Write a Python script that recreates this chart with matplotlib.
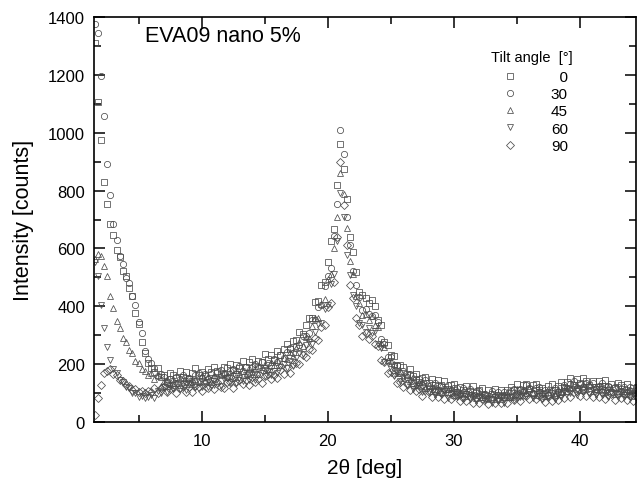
import matplotlib
matplotlib.use("Agg")
import matplotlib.pyplot as plt
import numpy as np
from matplotlib.ticker import MultipleLocator
from matplotlib.lines import Line2D

plt.rcParams['font.family'] = ['Liberation Sans', 'DejaVu Sans']

# 2theta grid, 0.25 deg step
two_theta = np.arange(1.5, 44.51, 0.25)

tilt_labels = ["  0", "30", "45", "60", "90"]
markers = ["s", "o", "^", "v", "D"]

tilt_0 = [1310, 1105, 975, 830, 752, 684, 648, 596, 570, 522, 506, 463, 436, 378, 340, 276, 240, 203,
          188, 172, 185, 157, 162, 140, 168, 161, 151, 175,
          156, 174, 149, 170, 185, 161, 172, 160, 184, 173,
          190, 175, 166, 191, 188, 202, 180, 197, 187, 210,
          190, 207, 218, 194, 212, 208, 234, 218, 232, 215,
          245, 233, 251, 271, 254, 280, 282, 311, 305, 335,
          360, 360, 415, 420, 474, 485, 554, 624, 667, 819,
          960, 875, 772, 640, 588, 519, 451, 438, 430, 412,
          423, 402, 354, 336, 276, 266, 230, 228, 195, 197,
          190, 165, 182, 159, 167, 139, 151, 155, 134, 150,
          127, 144, 127, 143, 115, 127, 130, 105, 122, 110,
          123, 106, 123, 99, 109, 117, 93, 109, 97, 114,
          94, 111, 92, 111, 120, 110, 130, 112, 128, 133,
          113, 129, 132, 111, 119, 101, 123, 130, 112, 124,
          137, 121, 138, 153, 128, 147, 136, 151, 141, 127,
          143, 121, 142, 126, 144, 122, 131, 117, 136, 129,
          115, 131, 108, 119, 121]

tilt_30 = [1375, 1345, 1195, 1058, 893, 786, 684, 630, 574, 546, 498, 481, 434, 405, 344, 306, 246, 219,
           205, 188, 158, 166, 157, 135, 147, 129, 154, 148,
           162, 142, 152, 139, 162, 170, 152, 165, 150, 166,
           152, 172, 179, 165, 156, 177, 183, 167, 192, 178,
           189, 171, 190, 199, 185, 209, 188, 203, 193, 219,
           206, 231, 221, 242, 256, 239, 264, 266, 299, 298,
           306, 353, 354, 399, 404, 469, 505, 533, 642, 755,
           1010, 928, 710, 612, 521, 472, 431, 387, 391, 375,
           366, 370, 344, 287, 268, 224, 224, 196, 198, 170,
           177, 156, 166, 136, 148, 150, 127, 146, 126, 115,
           134, 112, 124, 113, 127, 100, 116, 117, 96, 119,
           97, 114, 89, 106, 107, 88, 98, 80, 106, 90,
           105, 89, 103, 85, 106, 114, 97, 114, 104, 127,
           116, 99, 118, 121, 97, 110, 94, 108, 119, 105,
           104, 129, 119, 132, 142, 116, 133, 121, 136, 126,
           135, 115, 125, 134, 109, 126, 104, 122, 122, 108,
           120, 101, 120, 100, 109]

tilt_45 = [565, 580, 574, 540, 505, 436, 394, 348, 326, 292, 276, 248, 240, 212, 204, 183, 177, 163,
           171, 149, 161, 126, 142, 150, 130, 147, 136, 128,
           151, 137, 157, 133, 148, 139, 164, 146, 159, 140,
           163, 142, 163, 172, 156, 172, 153, 181, 166, 177,
           163, 188, 172, 187, 167, 189, 199, 184, 207, 197,
           213, 197, 221, 218, 243, 229, 255, 275, 261, 295,
           289, 332, 361, 358, 408, 425, 493, 510, 602, 710,
           860, 788, 670, 557, 511, 436, 412, 369, 374, 352,
           366, 335, 327, 274, 259, 214, 210, 200, 170, 175,
           153, 164, 143, 155, 127, 139, 141, 117, 128, 108,
           123, 105, 126, 104, 113, 118, 93, 111, 98, 110,
           89, 105, 98, 82, 105, 86, 99, 82, 99, 78,
           98, 78, 96, 104, 87, 94, 114, 94, 111, 101,
           119, 100, 93, 111, 105, 90, 113, 96, 92, 113,
           103, 125, 107, 116, 132, 128, 110, 130, 113, 132,
           106, 123, 111, 126, 104, 122, 116, 97, 116, 101,
           114, 97, 114, 90, 102]

tilt_60 = [552, 506, 404, 326, 258, 216, 182, 170, 146, 139, 120, 116, 101, 99, 88, 90, 82, 86,
           93, 84, 107, 99, 122, 104, 124, 114, 135, 114,
           133, 112, 130, 141, 122, 140, 121, 135, 122, 143,
           129, 149, 125, 147, 153, 140, 158, 136, 153, 142,
           163, 145, 163, 145, 164, 177, 159, 177, 161, 178,
           168, 190, 202, 187, 212, 195, 222, 238, 234, 265,
           277, 271, 312, 340, 342, 389, 405, 477, 511, 625,
           790, 710, 578, 508, 438, 401, 343, 335, 312, 324,
           306, 316, 271, 256, 209, 205, 184, 159, 169, 143,
           151, 128, 142, 114, 126, 126, 102, 117, 104, 117,
           95, 112, 96, 107, 84, 101, 105, 85, 93, 78,
           98, 79, 93, 73, 86, 93, 71, 82, 66, 85,
           72, 88, 67, 88, 87, 77, 101, 86, 102, 90,
           102, 82, 97, 103, 81, 97, 83, 100, 81, 98,
           85, 106, 114, 99, 115, 94, 118, 102, 120, 96,
           109, 93, 114, 95, 109, 87, 105, 99, 85, 105,
           85, 102, 86, 97, 80]

tilt_90 = [25, 82, 128, 168, 176, 182, 166, 163, 146, 143, 127, 125, 112, 113, 103, 107, 101, 108,
           102, 119, 100, 117, 123, 102, 113, 121, 101, 119,
           125, 104, 120, 102, 125, 122, 108, 134, 117, 131,
           115, 138, 122, 116, 140, 137, 119, 139, 146, 131,
           146, 129, 156, 137, 149, 136, 159, 165, 148, 164,
           153, 179, 165, 187, 171, 201, 203, 199, 232, 224,
           254, 249, 290, 285, 327, 334, 396, 410, 484, 640,
           900, 750, 612, 472, 430, 358, 334, 299, 306, 287,
           296, 268, 264, 215, 206, 169, 172, 165, 135, 139,
           122, 133, 109, 128, 106, 114, 91, 111, 103, 88,
           106, 87, 99, 78, 100, 79, 90, 92, 72, 84,
           74, 89, 67, 88, 67, 78, 84, 61, 78, 64,
           79, 65, 85, 66, 87, 75, 88, 71, 95, 90,
           78, 97, 78, 91, 84, 68, 92, 73, 88, 75,
           97, 83, 107, 85, 103, 107, 90, 109, 91, 107,
           85, 103, 86, 104, 79, 95, 97, 76, 97, 82,
           96, 77, 91, 72, 88]

series = [tilt_0, tilt_30, tilt_45, tilt_60, tilt_90]

fig = plt.figure(figsize=(6.37, 4.85), dpi=100)
ax = fig.add_axes([94/637, 62/485, 542/637, 405/485])

edge = '0.3'
for y, m in zip(series, markers):
    ax.plot(two_theta, y, linestyle='none', marker=m, markersize=4.5,
            markerfacecolor='none', markeredgecolor=edge, markeredgewidth=0.55)

ax.set_xlim(1.46, 44.45)
ax.set_ylim(0, 1400)
ax.xaxis.set_major_locator(MultipleLocator(10))
ax.xaxis.set_minor_locator(MultipleLocator(5))
ax.yaxis.set_major_locator(MultipleLocator(200))
ax.yaxis.set_minor_locator(MultipleLocator(100))
ax.tick_params(which='both', direction='in', top=True, right=True, labelsize=12, width=1.1)
ax.tick_params(which='major', length=8)
ax.tick_params(which='minor', length=5)
ax.tick_params(axis='x', which='major', pad=8)
ax.tick_params(axis='y', which='major', pad=6.5)
for s in ax.spines.values():
    s.set_linewidth(1.2)

ax.set_xlabel("2θ [deg]", fontsize=15, labelpad=7)
ax.set_ylabel("Intensity [counts]", fontsize=15.5, labelpad=10)

ax.text(0.094, 0.98, "EVA09 nano 5%", transform=ax.transAxes, fontsize=15.5,
        ha='left', va='top')

handles = [Line2D([], [], linestyle='none', marker=m, markersize=4.5,
                  markerfacecolor='none', markeredgecolor=edge, markeredgewidth=0.55)
           for m in markers]
leg = ax.legend(handles, tilt_labels, title="Tilt angle  [°]", loc='upper left',
                bbox_to_anchor=(0.716, 0.94), frameon=False, fontsize=11,
                title_fontsize=10.5, handlelength=2.4, handletextpad=1.5,
                labelspacing=0.21, alignment='left', borderaxespad=0.2)
leg._legend_box.sep = 4

fig.savefig("out.png", dpi=100)
